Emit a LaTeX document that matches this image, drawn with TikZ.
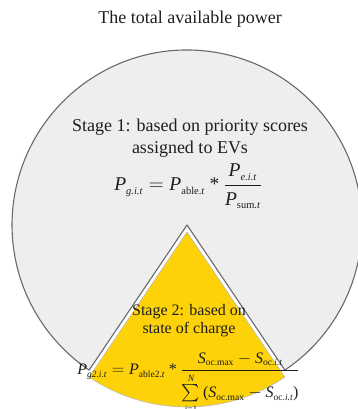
\documentclass[tikz,border=0pt]{standalone}
\usepackage{amsmath}
\usepackage{fontspec}
\setmainfont{Liberation Serif}
\usepackage{tikz}
\usepackage{xcolor}
\definecolor{piegray}  {RGB}{238,238,239}
\definecolor{rimgray}  {RGB}{105,105,108}
\definecolor{slicegold}{RGB}{254,210,  8}
\definecolor{inkgray}  {RGB}{ 30, 30, 30}
\tikzset{
  pie body/.style  = {fill=piegray, draw=rimgray, line width=1.1pt, line join=round},
  pie slice/.style = {fill=slicegold, draw=rimgray!45, line width=0.6pt, line join=round},
  label text/.style= {text=inkgray, inner sep=0pt, align=center},
}
\newcommand{\ti}[1]{\text{\itshape #1}}
% small subscripts, as in the equation editor
\newcommand{\lo}[1]{_{\text{\fontsize{10.5}{11}\selectfont #1}}}
\newcommand{\los}[1]{_{\text{\fontsize{9.5}{10}\selectfont #1}}}
\newcommand{\tms}{\mathbin{\text{*}}}

\begin{document}
\begin{tikzpicture}[x=1pt, y=1pt]
  \useasboundingbox (0,0) rectangle (357,409);

  % ── pie: gray body with the wedge cut out, gold slice pulled down ─────────
  \coordinate (C)  at (187,184);
  \coordinate (Cs) at (187,177);
  \draw[pie body] (C) -- ++(304:175)
    arc[start angle=304, end angle=596, radius=175] -- cycle;
  \draw[pie slice] (Cs) -- ++(236:175)
    arc[start angle=236, end angle=304, radius=175] -- cycle;

  % ── texts ─────────────────────────────────────────────────────────────────
  \node[label text, font=\fontsize{18}{22}\selectfont, anchor=base]
    (title) at (190,385) {The total available power};

  \node[label text, font=\fontsize{18}{21.6}\selectfont, anchor=base]
    (stage1) at (190,255.7) {Stage 1: based on priority scores\\assigned to EVs};

  \node[label text, font=\fontsize{19.5}{23}\selectfont, anchor=base]
    (eq1) at (188,218)
    {$\ti{P}\lo{\itshape g.i.t} = \ti{P}\lo{able.\itshape t} \tms
      \dfrac{\ti{P}\lo{\itshape e.i.t}}{\ti{P}\lo{sum.\itshape t}}$};

  \node[label text, font=\fontsize{16}{18.5}\selectfont, anchor=base]
    (stage2) at (189,75) {Stage 2: based on\\state of charge};

  \node[label text, font=\fontsize{16}{19}\selectfont, anchor=base]
    (eq2) at (188.5,34)
    {$\ti{P}\los{\itshape g2.i.t} = \ti{P}\los{able2.\itshape t} \tms
      \dfrac{\ti{S}\los{oc.max} - \ti{S}\los{oc.\itshape i.t}}
            {\sum\limits\los{\itshape i\upshape =1}^{\text{\fontsize{9.5}{10}\selectfont\itshape N}}
             \text{(}\ti{S}\los{oc.max} - \ti{S}\los{oc.\itshape i.t}\text{)}}$};

\end{tikzpicture}
\end{document}
